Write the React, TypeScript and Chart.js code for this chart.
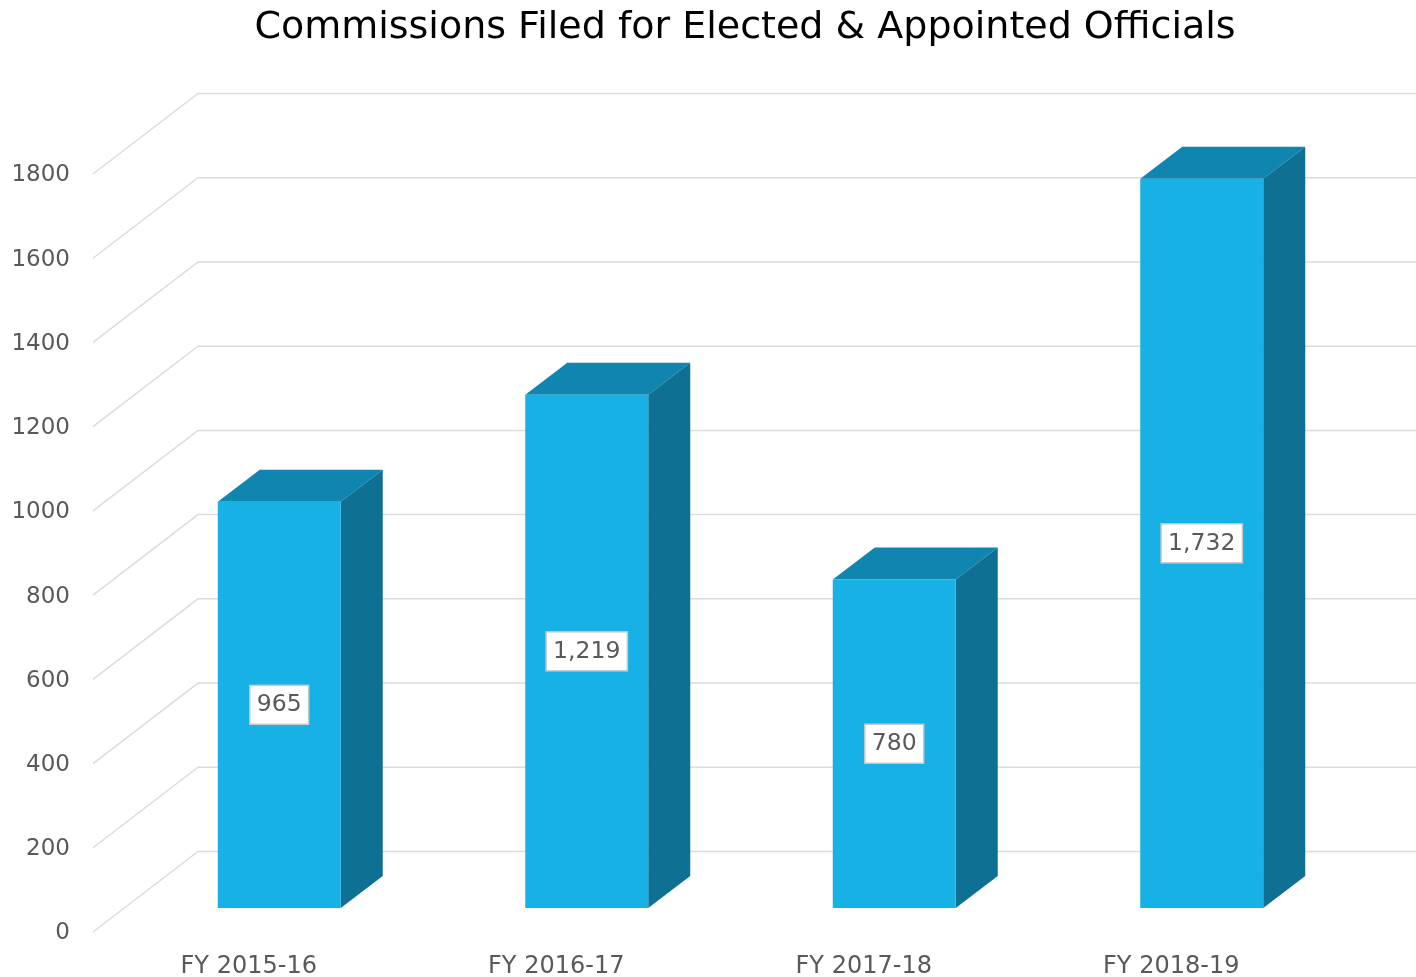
import React, { useEffect, useRef } from "react";
import { Chart, registerables } from "chart.js";

Chart.register(...registerables);

const titleText = "Commissions Filed for Elected & Appointed Officials";
const categories = ["FY 2015-16", "FY 2016-17", "FY 2017-18", "FY 2018-19"];
const commissions = [965, 1219, 780, 1732];
const fontFamily = '"DejaVu Sans", sans-serif';

const WALL_DX = 105;
const WALL_DY = -78.5;
const BAR_DX = 30.5;
const BAR_DY = -22;
const DEPTH_DX = 42;
const DEPTH_DY = -32;

const wallPlugin = {
  id: "wall",
  beforeDatasetsDraw(chart: any) {
    const { ctx, scales, width } = chart;
    const left = chart.chartArea.left - 2;
    ctx.save();
    ctx.strokeStyle = "#dcdcdc";
    ctx.lineWidth = 1.5;
    scales.y.ticks.forEach((t: any) => {
      const y = scales.y.getPixelForValue(t.value);
      ctx.beginPath();
      ctx.moveTo(left, y + 2);
      ctx.lineTo(left + WALL_DX, y + WALL_DY);
      ctx.lineTo(width, y + WALL_DY);
      ctx.stroke();
    });
    ctx.restore();

    ctx.save();
    ctx.translate(BAR_DX, BAR_DY);
    chart.getDatasetMeta(0).data.forEach((bar: any) => {
      const half = bar.width / 2;
      const l = bar.x - half;
      const r = bar.x + half;
      const top = bar.y;
      const base = bar.base;
      ctx.fillStyle = "#0F85B0";
      ctx.beginPath();
      ctx.moveTo(l, top);
      ctx.lineTo(l + DEPTH_DX, top + DEPTH_DY);
      ctx.lineTo(r + DEPTH_DX, top + DEPTH_DY);
      ctx.lineTo(r, top);
      ctx.closePath();
      ctx.fill();
      ctx.fillStyle = "#0E7092";
      ctx.beginPath();
      ctx.moveTo(r, top);
      ctx.lineTo(r + DEPTH_DX, top + DEPTH_DY);
      ctx.lineTo(r + DEPTH_DX, base + DEPTH_DY);
      ctx.lineTo(r, base);
      ctx.closePath();
      ctx.fill();
    });
  },
  afterDatasetsDraw(chart: any) {
    const { ctx } = chart;
    ctx.restore();
    ctx.save();
    ctx.font = `23.5px ${fontFamily}`;
    ctx.textAlign = "center";
    ctx.textBaseline = "middle";
    chart.getDatasetMeta(0).data.forEach((bar: any, i: number) => {
      const text = commissions[i].toLocaleString("en-US");
      const x = bar.x + BAR_DX;
      const y = (bar.y + bar.base) / 2 + BAR_DY;
      const w = ctx.measureText(text).width + 14;
      const h = 39;
      ctx.fillStyle = "#ffffff";
      ctx.fillRect(x - w / 2, y - h / 2, w, h);
      ctx.strokeStyle = "#c8c8c8";
      ctx.lineWidth = 1.5;
      ctx.strokeRect(x - w / 2, y - h / 2, w, h);
      ctx.fillStyle = "#595959";
      ctx.fillText(text, x, y + 0.5);
    });
    ctx.restore();
  },
};

export default function App() {
  const ref = useRef<HTMLCanvasElement>(null);
  useEffect(() => {
    const chart = new Chart(ref.current as HTMLCanvasElement, {
      type: "bar",
      data: {
        labels: categories,
        datasets: [
          {
            label: "Commissions Filed",
            data: commissions,
            backgroundColor: "#17B1E6",
            categoryPercentage: 1,
            barPercentage: 0.4,
          },
        ],
      },
      options: {
        responsive: false,
        animation: false,
        plugins: {
          legend: { display: false },
          tooltip: { enabled: false },
          title: {
            display: true,
            text: titleText,
            color: "#000000",
            font: { family: fontFamily, size: 38, weight: "normal", lineHeight: 1.2 },
            padding: { top: 5, bottom: 121.4 },
          },
        },
        scales: {
          x: {
            grid: { display: false, drawTicks: false },
            border: { display: false },
            ticks: { color: "#595959", font: { family: fontFamily, size: 24 }, padding: 22, maxRotation: 0 },
            afterFit: (s: any) => { s.height = 47; },
          },
          y: {
            min: 0,
            max: 1800,
            grid: { display: false, drawTicks: false },
            border: { display: false },
            ticks: {
              stepSize: 200,
              color: "#595959",
              font: { family: fontFamily, size: 23 },
              padding: 25,
              labelOffset: 3.5,
              callback: (v: any) => String(v),
            },
            afterFit: (s: any) => { s.width = 95; },
          },
          spacer: {
            position: "right",
            min: 0,
            max: 1800,
            grid: { display: false, drawTicks: false },
            border: { display: false },
            ticks: { display: false },
            afterFit: (s: any) => { s.width = 165; },
          },
        },
      },
      plugins: [wallPlugin],
    } as any);
    return () => chart.destroy();
  }, []);
  return (
    <div style={{ position: "absolute", left: 0, top: 0, width: 1416, height: 977, overflow: "hidden", background: "#fff" }}>
      <canvas ref={ref} width={1490} height={977} style={{ display: "block" }} />
    </div>
  );
}
